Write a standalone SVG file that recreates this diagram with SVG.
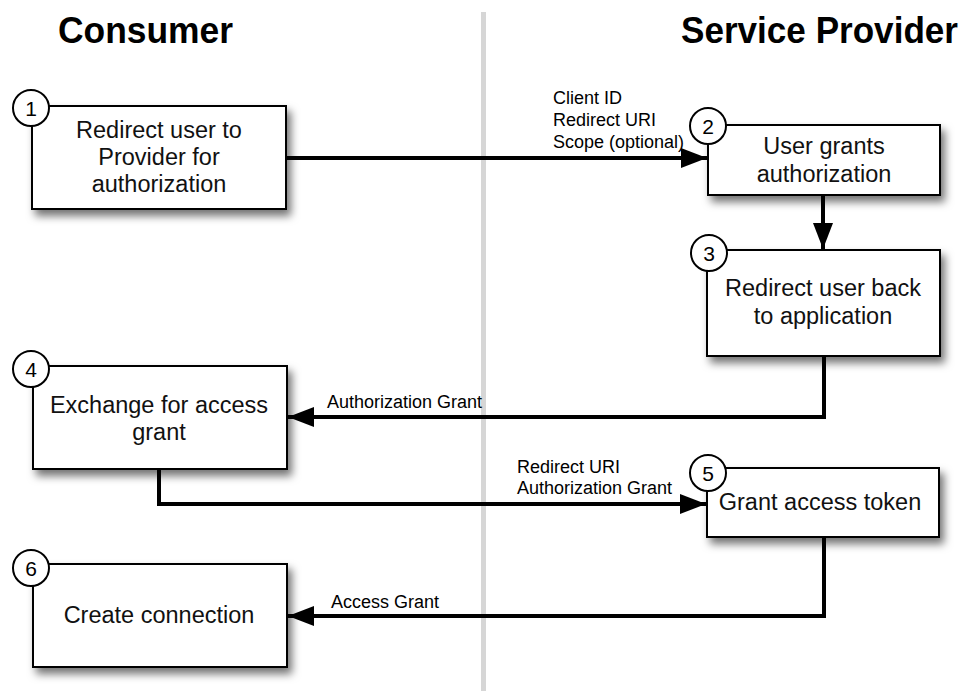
<svg xmlns="http://www.w3.org/2000/svg" width="967" height="691" viewBox="0 0 967 691">
  <defs>
    <filter id="shadow" x="-10%" y="-10%" width="130%" height="140%">
      <feDropShadow dx="4" dy="6" stdDeviation="4" flood-color="#000" flood-opacity="0.55"/>
    </filter>
    <marker id="arrow" markerUnits="userSpaceOnUse" markerWidth="26" markerHeight="20" refX="26" refY="10" orient="auto">
      <path d="M0,0 L26,10 L0,20 z" fill="#000"/>
    </marker>
  </defs>
  <style>
    .title { font-family: "Liberation Sans", Arial, sans-serif; font-weight: bold; font-size: 36px; fill: #000; }
    .box { fill: #fff; stroke: #000; stroke-width: 2; filter: url(#shadow); }
    .badge { fill: #fff; stroke: #000; stroke-width: 2; }
    .num { font-family: "Liberation Sans", Arial, sans-serif; font-size: 21px; fill: #000; text-anchor: middle; }
    .txt { font-family: "Liberation Sans", Arial, sans-serif; font-size: 23.5px; fill: #111; text-anchor: middle; }
    .lbl { font-family: "Liberation Sans", Arial, sans-serif; font-size: 18px; fill: #000; }
    .edge { fill: none; stroke: #000; stroke-width: 4; marker-end: url(#arrow); }
  </style>

  <rect width="967" height="691" fill="#fff"/>

  <!-- lane divider -->
  <rect x="481" y="12" width="5" height="679" fill="#d6d6d6"/>

  <!-- lane headings -->
  <text class="title" x="58" y="43" textLength="175" lengthAdjust="spacingAndGlyphs">Consumer</text>
  <text class="title" x="681" y="43" textLength="277" lengthAdjust="spacingAndGlyphs">Service Provider</text>

  <!-- connectors -->
  <g id="connectors">
    <path class="edge" d="M286,158 H707"/>
    <path class="edge" d="M823,195 V249"/>
    <path class="edge" d="M824,356 V417 H288"/>
    <path class="edge" d="M159,469 V504 H706"/>
    <path class="edge" d="M824,537 V616 H288"/>
    <g class="lbl">
      <text x="553" y="104">Client ID</text>
      <text x="553" y="126">Redirect URI</text>
      <text x="553" y="148">Scope (optional)</text>
      <text x="327" y="408">Authorization Grant</text>
      <text x="517" y="473">Redirect URI</text>
      <text x="517" y="494">Authorization Grant</text>
      <text x="331" y="608">Access Grant</text>
    </g>
  </g>

  <!-- step 1 -->
  <g id="node1">
    <rect class="box" x="32" y="106" width="254" height="103"/>
    <circle class="badge" cx="31" cy="108" r="18"/>
    <text class="num" x="31" y="116">1</text>
    <text class="txt" x="159" y="138">Redirect user to</text>
    <text class="txt" x="159" y="165">Provider for</text>
    <text class="txt" x="159" y="192">authorization</text>
  </g>

  <!-- step 2 -->
  <g id="node2">
    <rect class="box" x="708" y="125" width="232" height="70"/>
    <circle class="badge" cx="708" cy="126" r="18"/>
    <text class="num" x="708" y="134">2</text>
    <text class="txt" x="824" y="154">User grants</text>
    <text class="txt" x="824" y="182">authorization</text>
  </g>

  <!-- step 3 -->
  <g id="node3">
    <rect class="box" x="707" y="250" width="233" height="106"/>
    <circle class="badge" cx="709" cy="253" r="18"/>
    <text class="num" x="709" y="261">3</text>
    <text class="txt" x="823" y="296">Redirect user back</text>
    <text class="txt" x="823" y="324">to application</text>
  </g>

  <!-- step 4 -->
  <g id="node4">
    <rect class="box" x="33" y="366" width="254" height="103"/>
    <circle class="badge" cx="31" cy="369" r="18"/>
    <text class="num" x="31" y="377">4</text>
    <text class="txt" x="159" y="413">Exchange for access</text>
    <text class="txt" x="159" y="440">grant</text>
  </g>

  <!-- step 5 -->
  <g id="node5">
    <rect class="box" x="707" y="468" width="232" height="69"/>
    <circle class="badge" cx="708" cy="473" r="18"/>
    <text class="num" x="708" y="481">5</text>
    <text class="txt" x="820" y="510">Grant access token</text>
  </g>

  <!-- step 6 -->
  <g id="node6">
    <rect class="box" x="33" y="564" width="254" height="103"/>
    <circle class="badge" cx="31" cy="568" r="18"/>
    <text class="num" x="31" y="576">6</text>
    <text class="txt" x="159" y="623">Create connection</text>
  </g>
</svg>
